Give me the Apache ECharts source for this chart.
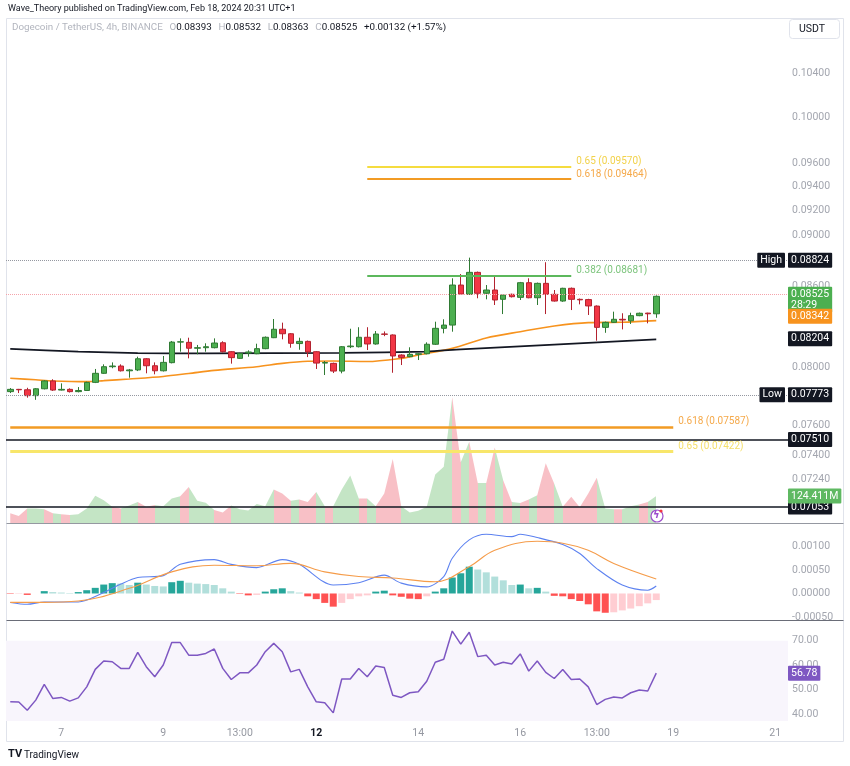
<!DOCTYPE html>
<html>
<head>
<meta charset="utf-8">
<script src="https://cdn.jsdelivr.net/npm/echarts@6/dist/echarts.min.js"></script>
<style>
  html, body { margin: 0; padding: 0; background: #fff; }
  #chart { width: 850px; height: 766px; }
</style>
</head>
<body>
<div id="chart"></div>
<script>
// DOGE/USDT 4h, candles from Feb 6 01:00 to Feb 18 17:00 (UTC+1)
var opens = [0.07830,0.07846,0.07843,0.07802,0.07850,0.07905,0.07841,0.07846,0.07830,0.07838,
  0.07895,0.07959,0.08006,0.08011,0.07977,0.07983,0.08063,0.08013,0.07977,0.08035,
  0.08184,0.08182,0.08139,0.08143,0.08143,0.08179,0.08114,0.08066,0.08104,0.08099,
  0.08136,0.08216,0.08278,0.08245,0.08173,0.08189,0.08114,0.08032,0.08030,0.07975,
  0.08150,0.08150,0.08219,0.08170,0.08243,0.08236,0.08090,0.08078,0.08095,0.08099,
  0.08168,0.08285,0.08309,0.08611,0.08540,0.08709,0.08548,0.08573,0.08502,0.08540,
  0.08517,0.08629,0.08514,0.08624,0.08540,0.08489,0.08586,0.08502,0.08500,0.08451,
  0.08292,0.08329,0.08352,0.08341,0.08379,0.08398,0.08393];
var closes = [0.07846,0.07843,0.07802,0.07850,0.07905,0.07841,0.07846,0.07830,0.07838,0.07895,
  0.07959,0.08006,0.08011,0.07977,0.07983,0.08063,0.08013,0.07977,0.08037,0.08184,
  0.08186,0.08139,0.08143,0.08150,0.08177,0.08114,0.08071,0.08102,0.08112,0.08136,
  0.08219,0.08278,0.08245,0.08175,0.08189,0.08112,0.08032,0.08036,0.07975,0.08150,
  0.08155,0.08219,0.08170,0.08243,0.08241,0.08083,0.08073,0.08095,0.08099,0.08168,
  0.08285,0.08309,0.08611,0.08542,0.08709,0.08548,0.08573,0.08497,0.08535,0.08522,
  0.08629,0.08514,0.08624,0.08540,0.08489,0.08586,0.08502,0.08498,0.08452,0.08292,
  0.08329,0.08352,0.08347,0.08379,0.08397,0.08393,0.08525];
var lows = [0.07820,0.07820,0.07788,0.07773,0.07846,0.07835,0.07838,0.07824,0.07825,0.07835,
  0.07890,0.07955,0.07995,0.07972,0.07928,0.07975,0.07959,0.07952,0.07972,0.08030,
  0.08114,0.08066,0.08095,0.08114,0.08138,0.08108,0.08028,0.08062,0.08078,0.08096,
  0.08132,0.08213,0.08204,0.08143,0.08128,0.08075,0.07990,0.07947,0.07961,0.07959,
  0.08140,0.08145,0.08126,0.08165,0.08227,0.07963,0.08018,0.08074,0.08054,0.08095,
  0.08163,0.08248,0.08260,0.08538,0.08535,0.08510,0.08502,0.08459,0.08391,0.08516,
  0.08497,0.08510,0.08459,0.08391,0.08485,0.08483,0.08421,0.08464,0.08384,0.08194,
  0.08252,0.08325,0.08277,0.08317,0.08375,0.08322,0.08363];
var highs = [0.07855,0.07849,0.07857,0.07855,0.07910,0.07917,0.07888,0.07853,0.07862,0.07900,
  0.07990,0.08023,0.08037,0.08023,0.07990,0.08078,0.08068,0.08037,0.08083,0.08192,
  0.08211,0.08216,0.08163,0.08175,0.08211,0.08190,0.08118,0.08106,0.08124,0.08172,
  0.08225,0.08354,0.08327,0.08250,0.08216,0.08195,0.08118,0.08047,0.08035,0.08155,
  0.08282,0.08293,0.08293,0.08265,0.08262,0.08240,0.08095,0.08146,0.08103,0.08182,
  0.08334,0.08352,0.08663,0.08696,0.08824,0.08715,0.08611,0.08675,0.08540,0.08545,
  0.08635,0.08663,0.08630,0.08788,0.08573,0.08590,0.08592,0.08508,0.08506,0.08456,
  0.08335,0.08409,0.08397,0.08401,0.08402,0.08401,0.08532];

// moving averages, read as [candle index, price]
var emaOrange = [[-0.4,0.07924],[3,0.07913],[5,0.07905],[9,0.07900],[11,0.07907],[14,0.07919],
  [18,0.07937],[21,0.07958],[24,0.07980],[29,0.08006],[32,0.08030],[35,0.08045],[38,0.08047],
  [42,0.08043],[46,0.08066],[48,0.08090],[52,0.08138],[56,0.08214],[60,0.08260],[64,0.08302],
  [68,0.08327],[72,0.08330],[76,0.08342]];
var emaBlack = [[-0.4,0.08134],[8,0.08114],[15,0.08104],[23,0.08102],[39,0.08106],[49,0.08115],
  [53,0.08131],[76,0.08204]];

// volume in millions
var volumes = [45,32,67,67,63,45,40,37,40,67,125,105,75,67,80,97,75,83,77,113,
  123,166,102,93,60,48,80,63,57,87,77,154,136,102,108,97,143,77,77,154,
  218,113,113,77,136,294,77,48,56,75,223,259,578,279,374,184,184,347,196,97,
  92,108,128,275,181,75,121,72,136,208,67,63,63,77,85,97,124.411];

// MACD
var macdHist = [-0.00001,-0.00001,-0.00003,0.00000,0.00005,0.00003,0.00002,0.00001,0.00003,0.00007,
  0.00012,0.00019,0.00022,0.00021,0.00018,0.00023,0.00019,0.00016,0.00015,0.00024,
  0.00027,0.00023,0.00021,0.00020,0.00018,0.00011,0.00004,-0.00001,-0.00004,-0.00003,
  0.00004,0.00009,0.00011,0.00005,0.00002,-0.00006,-0.00012,-0.00020,-0.00028,-0.00020,
  -0.00012,-0.00006,-0.00004,0.00004,0.00006,-0.00004,-0.00007,-0.00011,-0.00012,-0.00006,
  0.00004,0.00011,0.00034,0.00043,0.00057,0.00051,0.00045,0.00036,0.00028,0.00018,
  0.00019,0.00011,0.00012,0.00004,-0.00005,-0.00006,-0.00012,-0.00016,-0.00023,-0.00038,
  -0.00041,-0.00040,-0.00036,-0.00032,-0.00027,-0.00021,-0.00014];
var macdLine = [[-0.4,-0.00019],[2,-0.00023],[4,-0.00018],[8,-0.00018],[11,0.00002],[13,0.00020],
  [15,0.00034],[18,0.00038],[20,0.00062],[24,0.00072],[26,0.00062],[29,0.00055],[32,0.00072],
  [34,0.00062],[38,0.00018],[41,0.00023],[44,0.00039],[46,0.00022],[49,0.00014],[51,0.00036],
  [52,0.00075],[54,0.00114],[56,0.00126],[59,0.00121],[60,0.00126],[62,0.00119],[65,0.00104],
  [67,0.00085],[69,0.00053],[72,0.00018],[75,0.00007],[76,0.00016]];
var signalLine = [[-0.4,-0.00019],[4,-0.00019],[8,-0.00016],[14,0.00011],[19,0.00046],[24,0.00060],
  [29,0.00059],[33,0.00064],[37,0.00046],[41,0.00036],[45,0.00033],[50,0.00025],[54,0.00057],
  [57,0.00092],[62,0.00111],[65,0.00107],[68,0.00092],[71,0.00064],[76,0.00031]];

// RSI
var rsi = [45.1,45.0,41.7,45.8,52.2,46.5,46.9,45.4,46.7,51.2,
  58.3,61.7,61.4,58.7,58.7,65.2,59.4,55.3,60.1,69.2,
  69.2,64.1,64.1,64.8,66.6,58.7,54.2,56.9,56.9,60.1,
  65.5,68.9,65.5,57.3,58.3,51.2,45.1,44.7,40.6,54.4,
  54.4,58.7,55.3,59.7,59.1,47.8,46.9,48.8,49.2,53.5,
  61.2,62.4,73.9,68.6,73.4,63.5,64.1,60.1,61.2,60.5,
  64.6,57.6,61.7,57.1,54.6,58.3,54.2,54.4,51.2,44.0,
  46.1,47.1,46.7,48.8,49.9,49.5,56.78];

// axis ticks and levels
var priceTicks = [0.104, 0.100, 0.096, 0.094, 0.092, 0.090, 0.086, 0.080, 0.076, 0.074, 0.0724];
var priceMin = 0.069643, priceMax = 0.109269;
var macdTicks = [0.001, 0.0005, 0, -0.0005];
var rsiTicks = [70, 60, 50, 40];
var xTickKeys = ['7 01:00', '9 01:00', '10 13:00', '12 01:00', '14 01:00', '16 01:00', '17 13:00', '19 01:00', '21 01:00'];
var xTickText = ['7', '9', '13:00', '12', '14', '16', '13:00', '19', '21'];
var highPrice = 0.08824, lowPrice = 0.07773, lastPrice = 0.08525, emaOrangeLast = 0.08342, emaBlackLast = 0.08204;
var supportLevels = [0.07510, 0.07053];
var fibTop = [{ text: '0.65 (0.09570)', v: 0.09570, c: '#f5dc3f', t: '#f2d24a' },
  { text: '0.618 (0.09464)', v: 0.09464, c: '#f29b24', t: '#f5a94a' },
  { text: '0.382 (0.08681)', v: 0.08681, c: '#5cb85c', t: '#7cc47c' }];
var fibLow = [{ text: '0.618 (0.07587)', v: 0.07587, c: '#f29b24', t: '#f5a94a' },
  { text: '0.65 (0.07422)', v: 0.07422, c: '#f8e66a', t: '#f5df6a' }];

var nSlots = 92;
var categories = [];
var t0 = Date.UTC(2024, 1, 6, 1, 0);
for (var k = 0; k < nSlots; k++) {
  var d = new Date(t0 + k * 4 * 3600 * 1000);
  var h = d.getUTCHours();
  categories.push(d.getUTCDate() + ' ' + (h < 10 ? '0' + h : h) + ':00');
}

var L = Math.log;
var font = 'Roboto, "Noto Sans", sans-serif';
var axisGrey = '#a3a6af';

var candleData = opens.map(function (o, i) {
  return [L(o), L(closes[i]), L(lows[i]), L(highs[i])];
});

var histColors = macdHist.map(function (v, i) {
  var prev = i > 0 ? macdHist[i - 1] : 0;
  if (v >= 0) return v > prev ? '#26a69a' : '#b2dfdb';
  return v < prev ? '#ff5252' : '#ffcdd2';
});

var volPieces = closes.map(function (c, i) {
  var p = { color: c >= opens[i] ? '#c4e5c5' : '#f8c0c6' };
  if (i === 0) p.lte = 0; else { p.gt = i - 1; p.lte = i; }
  return p;
});

function boxLabel(text, bg, extra) {
  var lab = {
    show: true, position: 'end', distance: 0, formatter: text,
    backgroundColor: bg, color: '#fff', padding: [2, 3, 2, 3],
    fontFamily: font, fontSize: 10.5, borderRadius: 1, opacity: 1
  };
  for (var key in extra) lab[key] = extra[key];
  return lab;
}
var hidden = { color: 'rgba(0,0,0,0)', width: 0 };

var priceMarks = [
  { yAxis: L(highPrice), lineStyle: { color: '#9598a1', type: 'dotted', width: 1 }, label: boxLabel(highPrice.toFixed(5), '#131722') },
  { yAxis: L(highPrice), lineStyle: hidden, label: boxLabel('High', '#131722', { position: 'insideEnd', distance: 3 }) },
  { yAxis: L(lastPrice), lineStyle: { color: '#f5a3aa', type: 'dotted', width: 1 }, label: boxLabel(lastPrice.toFixed(5) + '\n28:29', '#4caf50', { lineHeight: 11, offset: [0, 6] }) },
  { yAxis: L(emaOrangeLast), lineStyle: hidden, label: boxLabel(emaOrangeLast.toFixed(5), '#f7931e') },
  { yAxis: L(emaBlackLast), lineStyle: hidden, label: boxLabel(emaBlackLast.toFixed(5), '#131722') },
  { yAxis: L(lowPrice), lineStyle: { color: '#9598a1', type: 'dotted', width: 1 }, label: boxLabel(lowPrice.toFixed(5), '#131722') },
  { yAxis: L(lowPrice), lineStyle: hidden, label: boxLabel('Low', '#131722', { position: 'insideEnd', distance: 3 }) }
];
supportLevels.forEach(function (v) {
  priceMarks.push({ yAxis: L(v), lineStyle: { color: '#131722', type: 'solid', width: 1.6 }, label: boxLabel(v.toFixed(5), '#131722') });
});
function fibMark(f, x0, x1, w) {
  return [
    { coord: [x0, L(f.v)], lineStyle: { color: f.c, type: 'solid', width: w },
      label: { show: true, position: 'end', distance: 5, formatter: f.text, color: f.t, fontFamily: font, fontSize: 10, verticalAlign: 'bottom' } },
    { coord: [x1, L(f.v)] }
  ];
}
fibTop.forEach(function (f) { priceMarks.push(fibMark(f, 42, 66.2, 2)); });
fibLow.forEach(function (f, i) { priceMarks.push(fibMark(f, -0.45, 78.4, i === 0 ? 2.5 : 3)); });

var gridLeft = 6, gridWidth = 782;
function hiddenX(gi) {
  return { type: 'category', gridIndex: gi, data: categories, boundaryGap: true, show: false };
}

var option = {
  animation: false,
  backgroundColor: '#ffffff',
  textStyle: { fontFamily: font },
  grid: [
    { left: gridLeft, width: gridWidth, top: 18, height: 505 },
    { left: gridLeft, width: gridWidth, top: 323, height: 200 },
    { left: gridLeft, width: gridWidth, top: 525, height: 95 },
    { left: gridLeft, width: gridWidth, top: 620, height: 101 }
  ],
  xAxis: [hiddenX(0), hiddenX(1), hiddenX(2), {
    type: 'category', gridIndex: 3, data: categories, boundaryGap: true,
    axisLine: { show: false }, axisTick: { show: false },
    axisLabel: {
      margin: 7, color: '#9598a1', fontSize: 10.5, fontFamily: font,
      interval: function (i, v) { return xTickKeys.indexOf(v) >= 0; },
      formatter: function (v) {
        var t = xTickText[xTickKeys.indexOf(v)];
        return t === '12' ? '{b|12}' : t;
      },
      rich: { b: { color: '#131722', fontWeight: 'bold', fontSize: 10.5 } }
    }
  }],
  yAxis: [
    {
      type: 'value', gridIndex: 0, position: 'right', min: L(priceMin), max: L(priceMax),
      splitLine: { show: false }, axisLine: { show: false }, axisTick: { show: false },
      axisLabel: {
        customValues: priceTicks.map(L), margin: 4, color: axisGrey, fontSize: 10.5, fontFamily: font,
        formatter: function (v) { return Math.exp(v).toFixed(5); }
      }
    },
    { type: 'value', gridIndex: 1, min: 0, max: 920, show: false },
    {
      type: 'value', gridIndex: 2, position: 'right', min: -0.000564, max: 0.001457,
      splitLine: { show: false }, axisLine: { show: false }, axisTick: { show: false },
      axisLabel: {
        customValues: macdTicks, margin: 4, color: axisGrey, fontSize: 10.5, fontFamily: font,
        formatter: function (v) { return v.toFixed(5); }
      }
    },
    {
      type: 'value', gridIndex: 3, position: 'right', min: 37.3, max: 78.4,
      splitLine: { show: false }, axisLine: { show: false }, axisTick: { show: false },
      axisLabel: {
        customValues: rsiTicks, margin: 4, color: axisGrey, fontSize: 10.5, fontFamily: font,
        formatter: function (v) { return v.toFixed(2); }
      }
    }
  ],
  visualMap: [{
    type: 'piecewise', show: false, dimension: 0, seriesIndex: 3, pieces: volPieces
  }],
  series: [
    {
      name: 'DOGEUSDT', type: 'candlestick', xAxisIndex: 0, yAxisIndex: 0, z: 3,
      barWidth: 6, data: candleData,
      itemStyle: { color: '#4caf50', color0: '#f23645', borderColor: '#2f7a33', borderColor0: '#b3222f', borderWidth: 1 },
      markLine: { silent: true, symbol: 'none', animation: false, data: priceMarks }
    },
    {
      name: 'EMA 50', type: 'line', xAxisIndex: 0, yAxisIndex: 0, z: 2, smooth: 0.3, showSymbol: false,
      data: emaOrange.map(function (p) { return [p[0], L(p[1])]; }),
      lineStyle: { color: '#f7931e', width: 1.6 }
    },
    {
      name: 'EMA 200', type: 'line', xAxisIndex: 0, yAxisIndex: 0, z: 2, smooth: 0.2, showSymbol: false,
      data: emaBlack.map(function (p) { return [p[0], L(p[1])]; }),
      lineStyle: { color: '#131722', width: 1.8 }
    },
    {
      name: 'Volume', type: 'line', xAxisIndex: 1, yAxisIndex: 1, z: 1, showSymbol: false,
      data: volumes, lineStyle: { width: 0, opacity: 0 }, areaStyle: { opacity: 1 },
      markLine: {
        silent: true, symbol: 'none', animation: false,
        data: [{ yAxis: 124.411, lineStyle: hidden, label: boxLabel('124.411M', '#5fb962') }]
      }
    },
    {
      name: 'Histogram', type: 'bar', xAxisIndex: 2, yAxisIndex: 2, barWidth: 7,
      data: macdHist.map(function (v, i) { return { value: v, itemStyle: { color: histColors[i] } }; })
    },
    {
      name: 'MACD', type: 'line', xAxisIndex: 2, yAxisIndex: 2, smooth: 0.3, showSymbol: false, z: 3,
      data: macdLine, lineStyle: { color: '#5d82f0', width: 1.1 }
    },
    {
      name: 'Signal', type: 'line', xAxisIndex: 2, yAxisIndex: 2, smooth: 0.4, showSymbol: false, z: 3,
      data: signalLine, lineStyle: { color: '#f59c4a', width: 1.1 }
    },
    {
      name: 'RSI', type: 'line', xAxisIndex: 3, yAxisIndex: 3, showSymbol: false,
      data: rsi, lineStyle: { color: '#7e57c2', width: 1.5 },
      markArea: { silent: true, itemStyle: { color: '#f8f5fc' }, data: [[{ yAxis: 37.3 }, { yAxis: 70 }]] },
      markLine: {
        silent: true, symbol: 'none', animation: false,
        data: [{ yAxis: rsi[rsi.length - 1], lineStyle: hidden, label: boxLabel('56.78', '#7e57c2') }]
      }
    }
  ],
  graphic: [
    { type: 'rect', silent: true, z: -1, shape: { x: 6.5, y: 18.5, width: 837, height: 723 }, style: { fill: 'none', stroke: '#e0e3eb', lineWidth: 1 } },
    { type: 'line', silent: true, shape: { x1: 6.5, y1: 523.5, x2: 843.5, y2: 523.5 }, style: { stroke: '#9598a1', lineWidth: 1 } },
    { type: 'line', silent: true, shape: { x1: 6.5, y1: 620.5, x2: 843.5, y2: 620.5 }, style: { stroke: '#6a6d78', lineWidth: 1 } },
    { type: 'text', silent: true, left: 8, top: 4, style: { text: 'Wave_Theory published on TradingView.com, Feb 18, 2024 20:31 UTC+1', fill: '#131722', font: '9px ' + font } },
    { type: 'text', silent: true, left: 12, top: 22, style: {
        text: '{g|Dogecoin / TetherUS, 4h, BINANCE}  {g|O}{v|0.08393}  {g|H}{v|0.08532}  {g|L}{v|0.08363}  {g|C}{v|0.08525}  {v|+0.00132 (+1.57%)}',
        rich: { g: { fill: '#b2b5be', fontSize: 9.8, fontFamily: font }, v: { fill: '#131722', fontSize: 9.8, fontFamily: font } }
    } },
    { type: 'rect', silent: true, shape: { x: 789.5, y: 19.5, width: 50, height: 19, r: 3 }, style: { fill: '#fff', stroke: '#e0e3eb' } },
    { type: 'text', silent: true, left: 799, top: 24, style: { text: 'USDT', fill: '#131722', font: '10.5px ' + font } },
    { type: 'text', silent: true, left: 8, top: 749, style: { text: 'TV', fill: '#131722', font: 'bold 11px ' + font } },
    { type: 'text', silent: true, left: 24, top: 750, style: { text: 'TradingView', fill: '#131722', font: '10px ' + font } },
    { type: 'circle', silent: true, z: 10, shape: { cx: 657, cy: 516, r: 6 }, style: { fill: '#fff', stroke: '#9c4dcc', lineWidth: 1.2 } },
    { type: 'text', silent: true, z: 11, left: 653, top: 510, style: { text: 'ϟ', fill: '#9c4dcc', font: 'bold 10px "DejaVu Sans"' } },
    { type: 'circle', silent: true, z: 11, shape: { cx: 661, cy: 511, r: 1.6 }, style: { fill: '#f23645' } }
  ]
};

var chart = echarts.init(document.getElementById('chart'));
chart.setOption(option);
</script>
</body>
</html>
